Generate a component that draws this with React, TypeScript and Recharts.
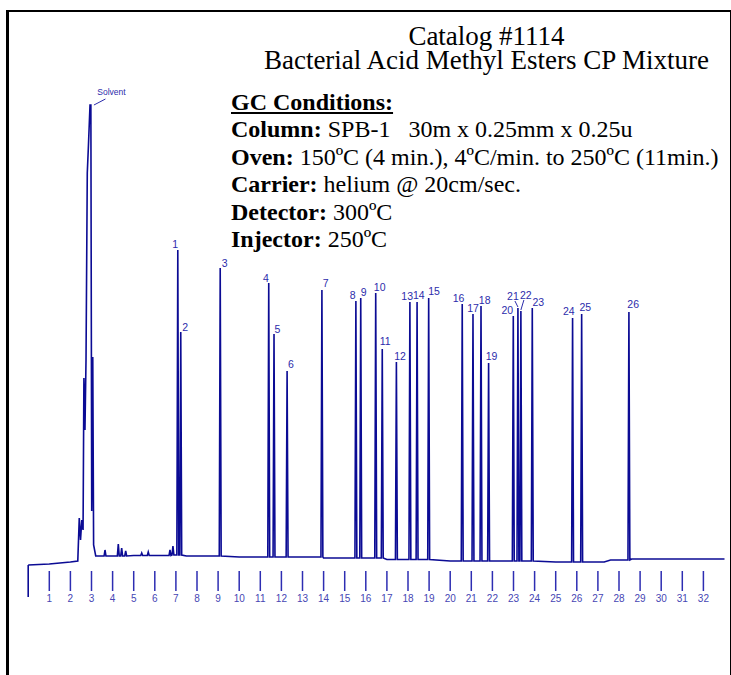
import { ComposedChart, Line, ReferenceLine, Scatter, XAxis, YAxis } from 'recharts';

// retention time axis (min)
const timeTicks = [1, 2, 3, 4, 5, 6, 7, 8, 9, 10, 11, 12, 13, 14, 15, 16, 17, 18, 19, 20, 21, 22, 23, 24, 25, 26, 27, 28, 29, 30, 31, 32];

// baseline drift
const baselineTimes = [0, 1, 2, 2.35, 3.2, 5, 6.8, 7.5, 10, 14, 17, 20, 25, 27.3, 27.6, 28.6, 33];
const baselineLevels = [6, 7, 9, 10, 15, 15.5, 16, 15, 14, 13, 11.5, 10, 9, 9, 11, 12, 12];

// solvent front (several overlapping peaks)
const solventTimes = [2.42, 2.48, 2.54, 2.6, 2.64, 2.69, 2.74, 2.8, 2.85, 2.93, 2.97, 3.01, 3.06, 3.1];
const solventLevels = [53, 31, 51, 41, 193, 141, 211, 398, 423, 466, 466, 60, 214, 26];

// small unlabelled bumps after the solvent
const minorTimes = [3.64, 4.27, 4.43, 4.62, 5.38, 5.69, 6.72, 6.86];
const minorHeights = [21, 27, 23, 20, 18, 19, 21, 25];

// numbered FAME peaks
const peakNames = ['1', '2', '3', '4', '5', '6', '7', '8', '9', '10', '11', '12', '13', '14', '15', '16', '17', '18', '19', '20', '21', '22', '23', '24', '25', '26'];
const peakTimes = [7.09, 7.23, 9.1, 11.4, 11.65, 12.27, 13.92, 15.53, 15.76, 16.47, 16.78, 17.45, 18.09, 18.43, 18.98, 20.57, 21.08, 21.46, 21.82, 22.99, 23.21, 23.35, 23.89, 25.8, 26.23, 28.47];
const peakHeights = [321, 239, 303, 288, 237, 200, 281, 270, 273, 278, 222, 209, 269, 269, 273, 267, 257, 265, 208, 255, 263, 260, 263, 253, 257, 259];

const solventApex = { t: 2.95, v: 466 };

// label placement relative to the apex (px)
const labelOffsets: Record<string, { dx: number; dy: number; leader?: number[] }> = {
  Solvent: { dx: 21, dy: -13, leader: [3.5, 0, 15, -6] },
  '1': { dx: -2.7, dy: -6 },
  '2': { dx: 4.5, dy: -5 },
  '3': { dx: 4.5, dy: -5 },
  '4': { dx: -2.7, dy: -5 },
  '5': { dx: 3.3, dy: -5 },
  '6': { dx: 3.7, dy: -7 },
  '7': { dx: 3.7, dy: -7 },
  '8': { dx: -3.3, dy: -6 },
  '9': { dx: 3, dy: -6 },
  '10': { dx: 4, dy: -6 },
  '11': { dx: 3, dy: -8 },
  '12': { dx: 3.7, dy: -6 },
  '13': { dx: -2.7, dy: -6 },
  '14': { dx: 1.7, dy: -7 },
  '15': { dx: 5.3, dy: -7 },
  '16': { dx: -3.7, dy: -6 },
  '17': { dx: 0, dy: -6 },
  '18': { dx: 3.7, dy: -6 },
  '19': { dx: 3, dy: -7 },
  '20': { dx: -6, dy: -6 },
  '21': { dx: -5, dy: -12, leader: [-3, -7, 0, -1] },
  '22': { dx: 5, dy: -16, leader: [3, -11, 0, -1] },
  '23': { dx: 6, dy: -6 },
  '24': { dx: -3.7, dy: -7 },
  '25': { dx: 3.7, dy: -7 },
  '26': { dx: 4.3, dy: -8 },
};

const HALF_WIDTH = 0.045;
const TRACE = '#0b0b94';
const LABEL = '#2c2cab';

const baseAt = (t: number) => {
  let level = baselineLevels[0];
  baselineTimes.forEach((bt, i) => {
    if (bt <= t) level = baselineLevels[i];
  });
  return level;
};

const spike = (t: number, v: number) => [
  { t: t - HALF_WIDTH, v: baseAt(t) },
  { t, v },
  { t: t + HALF_WIDTH, v: baseAt(t) },
];

const trace = [
  ...baselineTimes.map((t, i) => ({ t, v: baselineLevels[i] })),
  ...solventTimes.map((t, i) => ({ t, v: solventLevels[i] })),
  ...minorTimes.flatMap((t, i) => spike(t, minorHeights[i])),
  ...peakTimes.flatMap((t, i) => spike(t, peakHeights[i])),
].sort((a, b) => a.t - b.t);

const peakMarks = [
  { ...solventApex, name: 'Solvent' },
  ...peakNames.map((name, i) => ({ t: peakTimes[i], v: peakHeights[i], name })),
];

const PeakLabel = (props: any) => {
  const { cx, cy, payload } = props;
  const o = labelOffsets[payload.name] ?? { dx: 0, dy: -6 };
  const small = payload.name === 'Solvent';
  return (
    <g>
      {o.leader && (
        <line
          x1={cx + o.leader[0]}
          y1={cy + o.leader[1]}
          x2={cx + o.leader[2]}
          y2={cy + o.leader[3]}
          stroke={LABEL}
          strokeWidth={1}
        />
      )}
      <text
        x={cx + o.dx}
        y={cy + o.dy}
        textAnchor="middle"
        dominantBaseline="central"
        fill={LABEL}
        fontSize={small ? 8.5 : 10.5}
        fontFamily="'Liberation Sans Narrow', 'Arial Narrow', Arial, sans-serif"
      >
        {payload.name}
      </text>
    </g>
  );
};

const textStyle = {
  position: 'absolute' as const,
  fontFamily: "'Liberation Serif', 'Times New Roman', serif",
  color: '#000',
  whiteSpace: 'pre' as const,
};

const App = () => {
  return (
    <div style={{ position: 'absolute', left: 0, top: 0, width: 731, height: 675, background: '#fff', overflow: 'hidden' }}>
      <div
        style={{
          position: 'absolute',
          left: 6,
          top: 10,
          width: 721,
          height: 700,
          borderLeft: '3px solid #000',
          borderTop: '2.5px solid #000',
          borderRight: '1.5px solid #000',
        }}
      />
      <div style={{ position: 'absolute', left: 0, top: 0 }}>
        <ComposedChart width={731} height={675} margin={{ top: 71, right: 6.5, bottom: 64, left: 28.2 }}>
          <XAxis
            type="number"
            dataKey="t"
            domain={[0, 33]}
            ticks={timeTicks}
            interval={0}
            axisLine={false}
            tickSize={20}
            tickMargin={4}
            height={40}
            tickLine={{ stroke: '#2d2db2', strokeWidth: 1.5 }}
            tick={{ fill: '#4646b4', fontSize: 10, fontFamily: "'Liberation Sans Narrow', 'Arial Narrow', Arial, sans-serif" }}
          />
          <YAxis type="number" dataKey="v" domain={[0, 500]} hide />
          <ReferenceLine
            segment={[
              { x: 0, y: baselineLevels[0] },
              { x: 0, y: -26 },
            ]}
            stroke={TRACE}
            strokeWidth={1.6}
            ifOverflow="visible"
          />
          <Line
            data={trace}
            dataKey="v"
            type="linear"
            stroke={TRACE}
            strokeWidth={1.6}
            dot={false}
            isAnimationActive={false}
          />
          <Scatter
            data={peakMarks}
            dataKey="v"
            isAnimationActive={false}
            shape={(p: any) => <PeakLabel {...p} />}
          />
        </ComposedChart>
      </div>
      <div style={{ ...textStyle, left: 0, width: 973, top: 24, fontSize: 27, lineHeight: '24px', textAlign: 'center' }}>
        {'Catalog #1114\nBacterial Acid Methyl Esters CP Mixture'}
      </div>
      <div style={{ ...textStyle, left: 231, top: 89, fontSize: 24, lineHeight: '27.4px' }}>
        <div>
          <b style={{ textDecoration: 'underline' }}>GC Conditions:</b>
        </div>
        <div>
          <b>Column:</b> {'SPB-1   30m x 0.25mm x 0.25u'}
        </div>
        <div>
          <b>Oven:</b> 150ºC (4 min.), 4ºC/min. to 250ºC (11min.)
        </div>
        <div>
          <b>Carrier:</b> helium @ 20cm/sec.
        </div>
        <div>
          <b>Detector:</b> 300ºC
        </div>
        <div>
          <b>Injector:</b> 250ºC
        </div>
      </div>
    </div>
  );
};

export default App;
